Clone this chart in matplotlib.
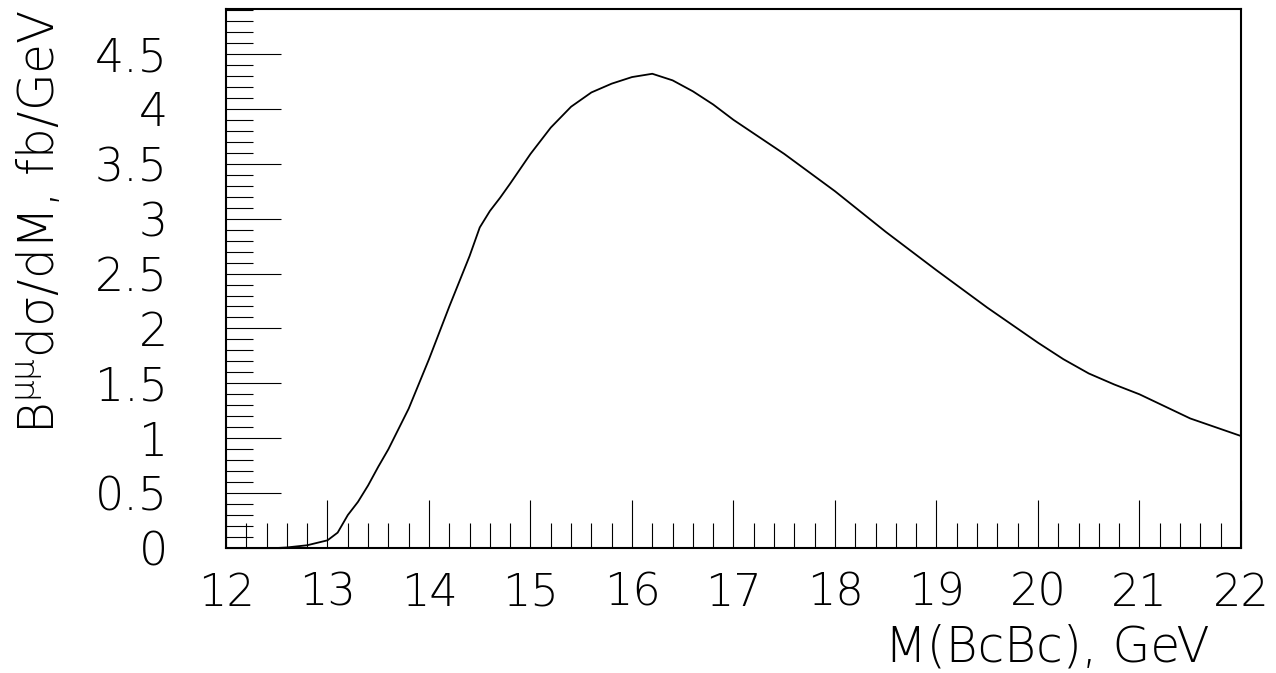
import matplotlib
matplotlib.use("Agg")
import matplotlib.pyplot as plt
from matplotlib.ticker import MultipleLocator, FixedLocator

plt.rcParams['font.family'] = ['DejaVu Sans']
plt.rcParams['mathtext.fontset'] = 'dejavusans'

# Data
mass = [12.0, 12.5, 12.6, 12.8, 13.0, 13.1, 13.2, 13.3, 13.4, 13.5, 13.6, 13.8,
        14.0, 14.2, 14.4, 14.5, 14.6, 14.7, 14.8, 15.0, 15.2, 15.4, 15.6, 15.8,
        16.0, 16.2, 16.4, 16.6, 16.8, 17.0, 17.5, 18.0, 18.5, 19.0, 19.5, 20.0,
        20.25, 20.5, 20.75, 21.0, 21.25, 21.5, 21.75, 22.0]
dsigma = [0.0, 0.0, 0.005, 0.025, 0.07, 0.14, 0.30, 0.42, 0.57, 0.74, 0.90, 1.27,
          1.72, 2.20, 2.66, 2.92, 3.07, 3.19, 3.32, 3.59, 3.83, 4.02, 4.15, 4.23,
          4.29, 4.32, 4.26, 4.16, 4.04, 3.90, 3.59, 3.25, 2.88, 2.53, 2.19, 1.87,
          1.72, 1.59, 1.49, 1.40, 1.29, 1.18, 1.10, 1.02]
x_ticks = [12, 13, 14, 15, 16, 17, 18, 19, 20, 21, 22]
x_tick_labels = ['12', '13', '14', '15', '16', '17', '18', '19', '20', '21', '22']
y_ticks = [0, 0.5, 1, 1.5, 2, 2.5, 3, 3.5, 4, 4.5]
y_tick_labels = ['0', '0.5', '1', '1.5', '2', '2.5', '3', '3.5', '4', '4.5']

W, H = 1276, 673
fig = plt.figure(figsize=(W / 100, H / 100), dpi=100)
ax = fig.add_axes([226 / W, 1 - 548 / H, (1241 - 226) / W, (548 - 9) / H])

ax.plot(mass, dsigma, color='black', lw=1.3)
ax.set_xlim(12, 22)
ax.set_ylim(0, 4.91)

for s in ax.spines.values():
    s.set_linewidth(1.5)

ax.xaxis.set_major_locator(FixedLocator(x_ticks))
ax.set_xticklabels(x_tick_labels)
ax.xaxis.set_minor_locator(MultipleLocator(0.2))
ax.yaxis.set_major_locator(FixedLocator(y_ticks))
ax.set_yticklabels(y_tick_labels)
ax.yaxis.set_minor_locator(MultipleLocator(0.1))

ax.tick_params(axis='x', which='major', direction='in', length=34.5, width=0.8,
               labelsize=32, pad=17, top=False)
ax.tick_params(axis='x', which='minor', direction='in', length=18, width=0.8, top=False)
ax.tick_params(axis='y', which='major', direction='in', length=39.5, width=0.8,
               labelsize=33, pad=42, right=False)
ax.tick_params(axis='y', which='minor', direction='in', length=19.5, width=0.8, right=False)
for lab in ax.get_xticklabels() + ax.get_yticklabels():
    lab.set_fontweight('light')

fig.text(1210 / W, 1 - 662 / H, 'M(BcBc), GeV', ha='right', va='baseline',
         fontsize=35, fontweight='light')
fig.text(40 / W, 1 - 10 / H, r'B$^{\mathregular{μμ}}$dσ/dM, fb/GeV', rotation=90,
         ha='center', va='top', fontsize=35, fontweight='light')

fig.savefig('out.png', dpi=100)
